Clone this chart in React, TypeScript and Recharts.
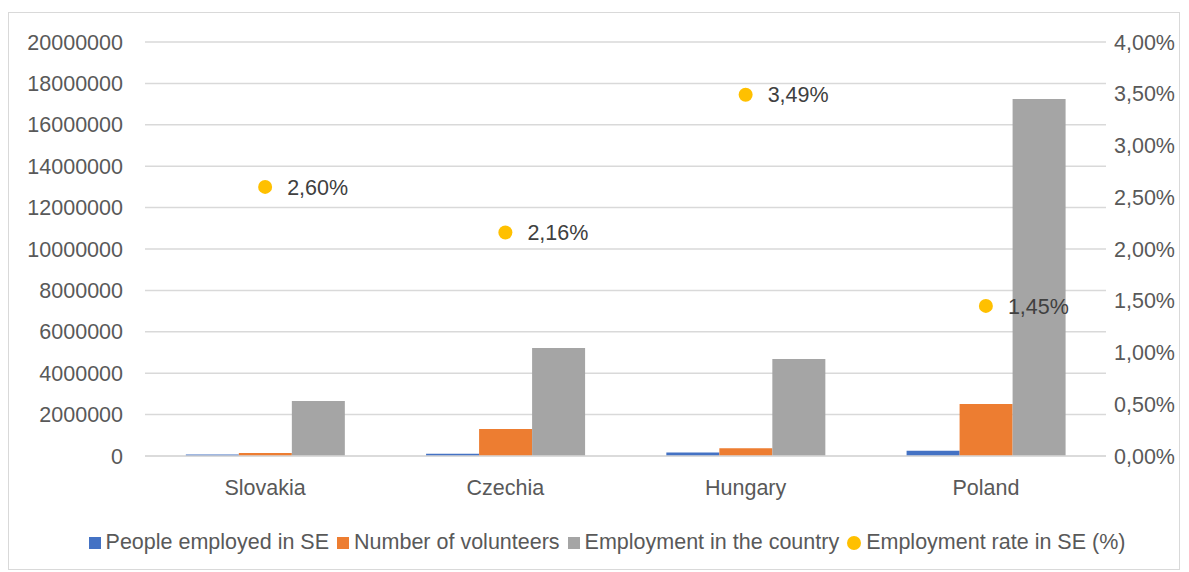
import React from "react";
import {
  ComposedChart,
  Bar,
  Line,
  XAxis,
  YAxis,
  CartesianGrid,
  Legend,
  LabelList,
} from "recharts";

const countries = ["Slovakia", "Czechia", "Hungary", "Poland"];
const employedInSE = [69000, 113000, 164000, 250000];
const volunteers = [140000, 1300000, 370000, 2510000];
const employmentInCountry = [2660000, 5220000, 4690000, 17250000];
const rateInSE = [2.6, 2.16, 3.49, 1.45];

const leftTicks = [0, 2000000, 4000000, 6000000, 8000000, 10000000, 12000000, 14000000, 16000000, 18000000, 20000000];
const rightTicks = [0, 0.5, 1, 1.5, 2, 2.5, 3, 3.5, 4];

const seriesNames = [
  "People employed in SE",
  "Number of volunteers",
  "Employment in the country",
  "Employment rate in SE (%)",
];
const COLORS = ["#4472C4", "#ED7D31", "#A5A5A5", "#FFC000"];

const data = countries.map((c, i) => ({
  name: c,
  employed: employedInSE[i],
  volunteers: volunteers[i],
  employment: employmentInCountry[i],
  rate: rateInSE[i],
}));

const FONT = "'Liberation Sans', Arial, sans-serif";
const FS = 21.5;

function pct(v: number): string {
  return `${v.toFixed(2).replace(".", ",")}%`;
}

function LegendContent() {
  return (
    <div
      style={{
        display: "flex",
        justifyContent: "center",
        alignItems: "center",
        paddingTop: 20,
        paddingLeft: 34,
        height: 73,
        boxSizing: "border-box",
        fontFamily: FONT,
        fontSize: FS,
        color: "#595959",
      }}
    >
      {seriesNames.map((n, i) => (
        <div key={n} style={{ display: "flex", alignItems: "center", marginRight: 8 }}>
          <span
            style={{
              display: "inline-block",
              width: i === 3 ? 14 : 12,
              height: i === 3 ? 14 : 12,
              borderRadius: i === 3 ? "50%" : 0,
              background: COLORS[i],
              marginRight: 5,
            }}
          />
          <span>{n}</span>
        </div>
      ))}
    </div>
  );
}

export default function App() {
  return (
    <div
      style={{
        marginTop: 4,
        width: 1170,
        height: 556,
        border: "1px solid #d9d9d9",
        background: "#fff",
      }}
    >
      <ComposedChart
        width={1170}
        height={556}
        data={data}
        margin={{ top: 29, right: 0, bottom: 0, left: 0 }}
        barCategoryGap="17%"
        barGap={0}
      >
        <CartesianGrid vertical={false} stroke="#d9d9d9" strokeWidth={1.5} yAxisId="left" />
        <XAxis
          dataKey="name"
          height={40}
          tickLine={false}
          axisLine={{ stroke: "#d9d9d9", strokeWidth: 1.5 }}
          tickMargin={18}
          tick={{ fill: "#595959", fontSize: FS, fontFamily: FONT }}
        />
        <YAxis
          yAxisId="left"
          orientation="left"
          width={136}
          domain={[0, 20000000]}
          ticks={leftTicks}
          tickFormatter={(v) => String(v)}
          axisLine={false}
          tickLine={false}
          tickSize={0}
          tickMargin={22}
          tick={{ fill: "#595959", fontSize: FS, fontFamily: FONT }}
        />
        <YAxis
          yAxisId="right"
          orientation="right"
          width={73}
          domain={[0, 4]}
          ticks={rightTicks}
          tickFormatter={pct}
          axisLine={false}
          tickLine={false}
          tickSize={0}
          tickMargin={8}
          tick={{ fill: "#595959", fontSize: FS, fontFamily: FONT }}
        />
        <Legend verticalAlign="bottom" content={<LegendContent />} />
        <Bar yAxisId="left" dataKey="employed" name={seriesNames[0]} fill={COLORS[0]} isAnimationActive={false} />
        <Bar yAxisId="left" dataKey="volunteers" name={seriesNames[1]} fill={COLORS[1]} isAnimationActive={false} />
        <Bar yAxisId="left" dataKey="employment" name={seriesNames[2]} fill={COLORS[2]} isAnimationActive={false} />
        <Line
          yAxisId="right"
          dataKey="rate"
          name={seriesNames[3]}
          stroke="none"
          dot={{ r: 7, fill: COLORS[3], stroke: "none" }}
          activeDot={false}
          isAnimationActive={false}
        >
          <LabelList
            dataKey="rate"
            position="right"
            offset={22}
            formatter={(v: any) => pct(Number(v))}
            fill="#404040"
            fontSize={FS}
            fontFamily={FONT}
          />
        </Line>
      </ComposedChart>
    </div>
  );
}
